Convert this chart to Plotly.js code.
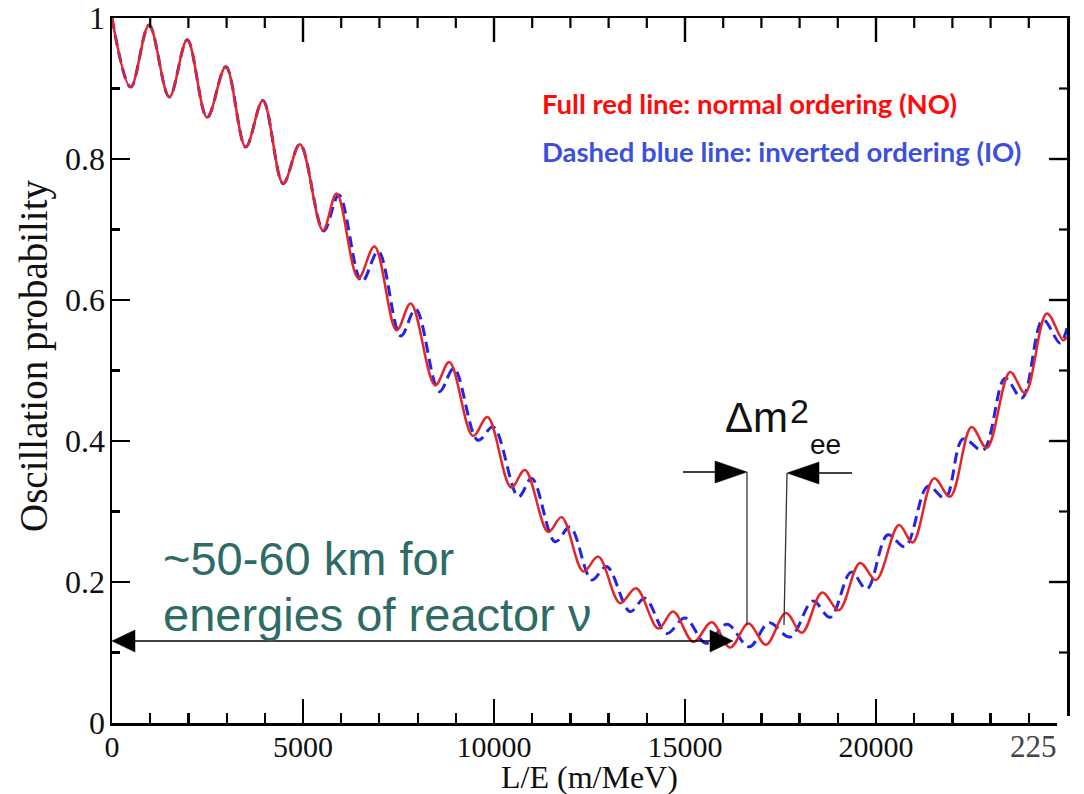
<!DOCTYPE html>
<html>
<head>
<meta charset="utf-8">
<script src="https://cdn.plot.ly/plotly-3.0.1.min.js"></script>
<style>
html,body{margin:0;padding:0;background:#fff;}
#chart{width:1084px;height:794px;}
</style>
</head>
<body>
<div id="chart"></div>
<script>
// ---- Data (peaks and troughs of the fast wiggle) ----
// Normal ordering (full red line)
const LE_NO = [0,490,970,1500,1970,2490,2980,3500,3950,4480,4920,5520,5880,6450,6870,7450,7820,8460,8830,9450,9830,10450,10810,11420,11770,12340,12730,13300,13720,14300,14690,15220,15700,16180,16660,17120,17640,18060,18590,19030,19580,20000,20600,20960,21520,21940,22500,22900,23510,23900,24470,24900,25000];
const P_NO  = [1.000,0.902,0.990,0.888,0.969,0.859,0.931,0.817,0.883,0.765,0.821,0.699,0.751,0.631,0.676,0.557,0.595,0.479,0.512,0.407,0.434,0.334,0.359,0.271,0.292,0.215,0.236,0.170,0.191,0.134,0.158,0.115,0.143,0.107,0.141,0.111,0.156,0.128,0.185,0.160,0.227,0.203,0.281,0.256,0.347,0.321,0.420,0.390,0.498,0.468,0.581,0.543,0.548];
// Inverted ordering (dashed blue line)
const LE_IO = [0,490,970,1500,1970,2490,2980,3500,3950,4480,4920,5540,5940,6540,6970,7560,7950,8570,8950,9580,9980,10640,10990,11600,11990,12560,12950,13560,13950,14520,15000,15550,16100,16680,17200,17750,18350,18800,19350,19760,20310,20760,21360,21810,22280,22800,23380,23820,24370,24820,25000];
const P_IO  = [1.000,0.902,0.990,0.888,0.969,0.859,0.931,0.817,0.883,0.765,0.821,0.698,0.749,0.626,0.669,0.549,0.587,0.470,0.503,0.401,0.420,0.321,0.347,0.257,0.278,0.203,0.222,0.158,0.177,0.127,0.149,0.113,0.140,0.108,0.142,0.122,0.173,0.150,0.214,0.190,0.267,0.250,0.336,0.319,0.403,0.387,0.489,0.461,0.572,0.539,0.560];

// Axis ticks
const X_TICKS = [0,5000,10000,15000,20000];
const X_TICK_LABELS = ['0','5000','10000','15000','20000'];
const X_MINOR_STEP = 1000;
const Y_TICKS = [0,0.2,0.4,0.6,0.8,1];
const Y_TICK_LABELS = ['0','0.2','0.4','0.6','0.8','1'];
const Y_MINOR_STEP = 0.1;

// Text
const X_TITLE = 'L/E (m/MeV)';
const Y_TITLE = 'Oscillation probability';
const TXT_NO = 'Full red line: normal ordering (NO)';
const TXT_IO = 'Dashed blue line: inverted ordering (IO)';
const TXT_DIST1 = '~50-60 km for';
const TXT_DIST2 = 'energies of reactor ν';

// ---- geometry helpers (plot area in pixels) ----
const W = 1084, H = 794;
const PL = 112, PR = 1067, PT = 18, PB = 723;
const XMAX = 25000;
const fx = px => (px - PL) / (PR - PL) * XMAX;
const fy = py => (PB - py) / (PB - PT);
const px2paper = px => (px - PL) / (PR - PL);
const py2paper = py => (PB - py) / (PB - PT);

function tri(p1, p2, p3) {
  return 'M' + fx(p1[0]) + ',' + fy(p1[1]) + ' L' + fx(p2[0]) + ',' + fy(p2[1]) +
         ' L' + fx(p3[0]) + ',' + fy(p3[1]) + ' Z';
}
function seg(x0, y0, x1, y1, w, c) {
  return {type:'line', xref:'x', yref:'y', x0:fx(x0), y0:fy(y0), x1:fx(x1), y1:fy(y1),
          line:{color:c, width:w}, layer:'above'};
}
function head(p1, p2, p3) {
  return {type:'path', xref:'x', yref:'y', path:tri(p1,p2,p3),
          fillcolor:'#000', line:{color:'#000', width:0.5}, layer:'above'};
}

// mirrored ticks on the top and right frame edges (built from the tick arrays)
const mirrorTicks = [];
const XMAJ_LEN = 24, XMIN_LEN = 10, YMAJ_LEN = 18, YMIN_LEN = 8;
for (let v = X_MINOR_STEP; v < XMAX; v += X_MINOR_STEP) {
  const major = X_TICKS.indexOf(v) >= 0;
  const len = major ? XMAJ_LEN : XMIN_LEN;
  mirrorTicks.push({type:'line', xref:'x', yref:'y', x0:v, x1:v, y0:fy(PT), y1:fy(PT + len),
                    line:{color:'#000', width: major ? 2.4 : 2.2}, layer:'above'});
}
for (let i = 1; i < 10; i++) {
  const v = +(i * Y_MINOR_STEP).toFixed(1);
  const major = Y_TICKS.indexOf(v) >= 0;
  const len = major ? YMAJ_LEN : YMIN_LEN;
  mirrorTicks.push({type:'line', xref:'x', yref:'y', x0:XMAX, x1:fx(PR - len), y0:v, y1:v,
                    line:{color:'#000', width: major ? 2.4 : 2.2}, layer:'above'});
}

const traces = [
  {x: LE_IO, y: P_IO, type:'scatter', mode:'lines', name:'IO',
   line:{color:'#2424e6', width:3, dash:'11px,6px', shape:'spline', smoothing:1}},
  {x: LE_NO, y: P_NO, type:'scatter', mode:'lines', name:'NO',
   line:{color:'#e3262b', width:2.5, shape:'spline', smoothing:1}}
];

const serif = 'Liberation Serif, Times New Roman, serif';
const sans = 'Liberation Sans, Arial, sans-serif';

const layout = {
  width: W, height: H,
  margin: {l: PL, r: W - PR, t: PT, b: H - PB, pad: 0},
  paper_bgcolor: '#fff', plot_bgcolor: '#fff',
  showlegend: false,
  xaxis: {
    range: [0, XMAX], showgrid: false, zeroline: false,
    showline: true, linecolor: '#000', linewidth: 2.5, mirror: true,
    ticks: 'inside', ticklen: XMAJ_LEN, tickwidth: 2.4, tickcolor: '#000',
    tickmode: 'array', tickvals: X_TICKS, ticktext: X_TICK_LABELS,
    tickfont: {family: serif, size: 30, color: '#111'}, ticklabelstandoff: -5,
    minor: {tickmode: 'linear', tick0: 0, dtick: X_MINOR_STEP, ticks: 'inside', ticklen: XMIN_LEN, tickwidth: 2.2, tickcolor: '#000', showgrid: false},
    automargin: false
  },
  yaxis: {
    range: [0, 1], showgrid: false, zeroline: false,
    showline: true, linecolor: '#000', linewidth: 2.5, mirror: true,
    ticks: 'inside', ticklen: YMAJ_LEN, tickwidth: 2.4, tickcolor: '#000',
    tickmode: 'array', tickvals: Y_TICKS, ticktext: Y_TICK_LABELS,
    tickfont: {family: serif, size: 32, color: '#111'}, ticklabelstandoff: -2,
    minor: {tickmode: 'linear', tick0: 0, dtick: Y_MINOR_STEP, ticks: 'inside', ticklen: YMIN_LEN, tickwidth: 2.2, tickcolor: '#000', showgrid: false},
    automargin: false
  },
  shapes: mirrorTicks.concat([
    // long double arrow
    seg(118, 641, 728, 641, 1.6, '#000'),
    head([112,641],[135,630],[135,652]),
    head([733,641],[710,630],[710,652]),
    // delta m^2 markers
    seg(683, 472, 720, 472, 1.3, '#000'),
    head([747,472],[715,461],[715,483]),
    seg(852, 473, 815, 473, 1.3, '#000'),
    head([787,473],[819,462],[819,484]),
    seg(747, 472, 747, 625, 1.3, '#333'),
    seg(787, 473, 784, 625, 1.3, '#333'),
    // white patch over bottom-right corner
    {type:'rect', xref:'paper', yref:'paper', x0: px2paper(1057), x1: px2paper(1090),
     y0: py2paper(716), y1: py2paper(770), fillcolor:'#fff', line:{width:0}, layer:'above'}
  ]),
  annotations: [
    // axis titles
    {xref:'paper', yref:'paper', x: px2paper(589.5), y: py2paper(777), xanchor:'center', yanchor:'middle',
     text: X_TITLE, showarrow:false, font:{family:serif, size:32, color:'#111'}},
    {xref:'paper', yref:'paper', x: px2paper(34), y: py2paper(356), xanchor:'center', yanchor:'middle',
     text: Y_TITLE, textangle:-90, showarrow:false, font:{family:serif, size:39, color:'#111'}},
    // notes
    {xref:'paper', yref:'paper', x: px2paper(540), y: py2paper(104), xanchor:'left', yanchor:'middle',
     text:'<b>' + TXT_NO + '</b>', showarrow:false, font:{family:'Lato, sans-serif', size:27.5, color:'#ff0a0a'}},
    {xref:'paper', yref:'paper', x: px2paper(540), y: py2paper(151), xanchor:'left', yanchor:'middle',
     text:'<b>' + TXT_IO + '</b>', showarrow:false, font:{family:'Lato, sans-serif', size:27.5, color:'#3c4fe0'}},
    {xref:'paper', yref:'paper', x: px2paper(161), y: py2paper(558), xanchor:'left', yanchor:'middle',
     text: TXT_DIST1, showarrow:false, font:{family:sans, size:47, color:'#2d6b67'}},
    {xref:'paper', yref:'paper', x: px2paper(161), y: py2paper(614), xanchor:'left', yanchor:'middle',
     text: TXT_DIST2, showarrow:false, font:{family:sans, size:47, color:'#2d6b67'}},
    {xref:'paper', yref:'paper', x: px2paper(723), y: py2paper(418), xanchor:'left', yanchor:'middle',
     text:'Δm', showarrow:false, font:{family:sans, size:42, color:'#111'}},
    {xref:'paper', yref:'paper', x: px2paper(788), y: py2paper(411), xanchor:'left', yanchor:'middle',
     text:'2', showarrow:false, font:{family:sans, size:34, color:'#111'}},
    {xref:'paper', yref:'paper', x: px2paper(808), y: py2paper(444), xanchor:'left', yanchor:'middle',
     text:'ee', showarrow:false, font:{family:sans, size:28, color:'#111'}},
    {xref:'paper', yref:'paper', x: px2paper(1033), y: py2paper(746), xanchor:'center', yanchor:'middle',
     text:'225', showarrow:false, font:{family:serif, size:31, color:'#444'}}
  ]
};

Plotly.newPlot('chart', traces, layout, {displayModeBar: false, staticPlot: true});
</script>
</body>
</html>
